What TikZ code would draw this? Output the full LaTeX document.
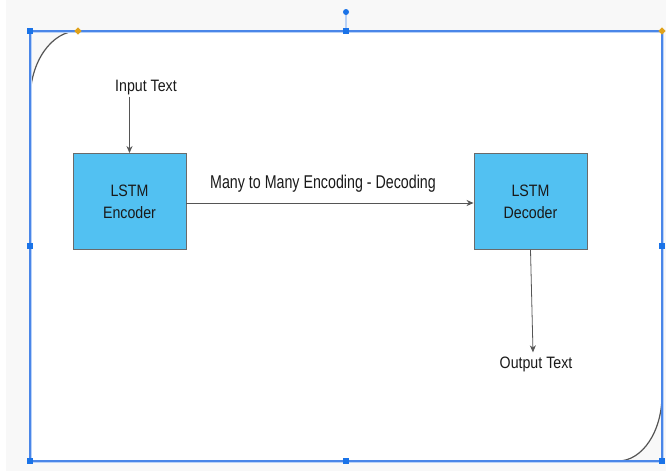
\documentclass[tikz,border=0pt]{standalone}
\usepackage{fontspec}
\setmainfont{Liberation Sans}[FakeStretch=0.86]
\newfontfamily\midfont{Liberation Sans}[FakeStretch=0.77]
\usetikzlibrary{arrows.meta}
\definecolor{bggray}{HTML}{F8F8F8}
\definecolor{boxfill}{HTML}{52C1F2}
\definecolor{boxline}{HTML}{6A6A6A}
\definecolor{arrowcol}{HTML}{555555}
\definecolor{selblue}{HTML}{4A86E8}
\definecolor{handleblue}{HTML}{1A73E8}
\definecolor{halo}{HTML}{B9D2F8}
\definecolor{gold}{HTML}{E0A21B}
\definecolor{textcol}{HTML}{1A1A1A}
\begin{document}
\begin{tikzpicture}[x=1pt,y=-1pt,
  lstmbox/.style={draw=boxline,line width=0.9pt,fill=boxfill,minimum width=113pt,minimum height=96pt,inner sep=0pt,align=center,text=textcol,font=\fontsize{16.5}{22}\selectfont},
  label/.style={inner sep=1pt,text=textcol,font=\fontsize{16.5}{19}\selectfont},
  midlabel/.style={inner sep=1pt,text=textcol,font=\midfont\fontsize{18.5}{21}\selectfont},
  conn/.style={draw=arrowcol,line width=0.8pt,-{Stealth[length=7pt,width=6pt]}},
  handle/.style={fill=handleblue,minimum size=6pt,inner sep=0pt},
  diamondhandle/.style={fill=gold,minimum size=5pt,inner sep=0pt,rotate=45}]
\useasboundingbox (0,0) rectangle (666,471);
\fill[white] (0,0) rectangle (666,471);
\fill[bggray] (6,0) rectangle (666,471);
% main shape
\path[fill=white,draw=arrowcol,line width=1.2pt]
  (78,31) -- (662,31) -- (662,395)
  .. controls (662,431.5) and (642.3,461) .. (618,461)
  -- (30,461) -- (30,100)
  .. controls (30,61.9) and (51.5,31) .. (78,31) -- cycle;
% selection frame
\draw[halo,line width=3pt] (30,31) rectangle (662,461);
\draw[selblue,line width=1.1pt] (30,31) rectangle (662,461);
\draw[halo,line width=1.2pt] (346,31) -- (346,12);
\fill[handleblue] (346,12) circle (3pt);
\foreach \p/\n in {{(30,31)}/h1,{(346,31)}/h2,{(30,246)}/h3,{(662,246)}/h4,{(30,461)}/h5,{(346,461)}/h6,{(662,461)}/h7}
  \node[handle] (\n) at \p {};
\node[diamondhandle] (d1) at (78,31) {};
\node[diamondhandle] (d2) at (662,31) {};
% diagram
\node[lstmbox] (enc) at (129.5,201.5) {LSTM\\Encoder};
\node[lstmbox] (dec) at (530.5,201.5) {LSTM\\Decoder};
\node[label] (in) at (146,88) {Input Text};
\node[label] (out) at (536,364) {Output Text};
\node[midlabel] (mid) at (323,184) {Many to Many Encoding - Decoding};
\path[conn] (enc.north |- in.south) -- (enc.north);
\path[conn] ([yshift=-1.5pt]enc.east) -- ([yshift=-1.5pt]dec.west);
\path[conn] (dec.south) -- ([xshift=-3pt,yshift=3pt]out.north);
\end{tikzpicture}
\end{document}
